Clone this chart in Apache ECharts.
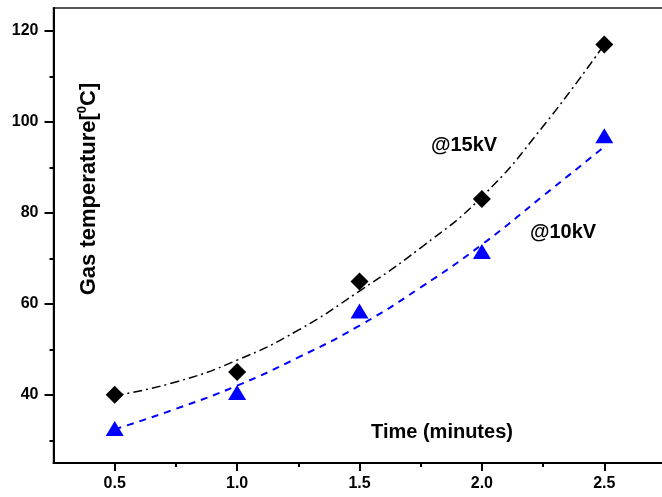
<!DOCTYPE html>
<html>
<head>
<meta charset="utf-8">
<script src="https://cdn.jsdelivr.net/npm/echarts@6/dist/echarts.min.js"></script>
<style>html,body{margin:0;padding:0;background:#fff}#c{width:662px;height:497px}</style>
</head>
<body>
<div id="c"></div>
<script>
// Measured data
const times = [0.5, 1.0, 1.5, 2.0, 2.5];
const temp15kV = [40, 45, 64.9, 83, 117];
const temp10kV = [32.6, 40.5, 58.4, 71.5, 96.9];
// Fitted curves
const fitTimes = [0.5, 0.75, 1.0, 1.25, 1.5, 1.75, 2.0, 2.25, 2.5];
const fit15kV = [39.8, 42.8, 47.6, 54.2, 62.8, 72.3, 83.5, 99, 117];
const fit10kV = [32.4, 36.9, 42, 48.2, 55.2, 63.6, 73, 83.7, 94.5];
// Tick values
const xMajorTicks = [0.5, 1.0, 1.5, 2.0, 2.5];
const xMinorTicks = [0.75, 1.25, 1.75, 2.25];
const yMajorTicks = [40, 60, 80, 100, 120];
const yMinorTicks = [30, 50, 70, 90, 110];

const FONT = 'Liberation Sans, Arial, sans-serif';
const chart = echarts.init(document.getElementById('c'));
const pair = (xs, ys) => xs.map((x, i) => [x, ys[i]]);

function tickAxis(min, max, pos, values, len) {
  return {type: 'value', min: min, max: max, position: pos,
    splitLine: {show: false}, axisLine: {show: false},
    axisTick: {show: true, customValues: values, length: len, lineStyle: {color: '#000', width: 2}},
    axisLabel: {show: false}};
}

chart.setOption({
  animation: false,
  backgroundColor: '#fff',
  grid: {left: 53.5, top: 8, right: -3.5, bottom: 34, show: true, outerBoundsMode: 'none',
         containLabel: false, borderColor: '#222', borderWidth: 1.5, backgroundColor: 'transparent'},
  xAxis: [
    {type: 'value', min: 0.25, max: 2.75, position: 'bottom',
     splitLine: {show: false},
     axisLine: {show: true, onZero: false, lineStyle: {color: '#000', width: 2}},
     axisTick: {show: false},
     axisLabel: {customValues: xMajorTicks, margin: 13, color: '#000', fontSize: 16, fontWeight: 'bold',
                 fontFamily: FONT, formatter: v => v.toFixed(1)}},
    tickAxis(0.25, 2.75, 'bottom', xMajorTicks, 8),
    tickAxis(0.25, 2.75, 'bottom', xMinorTicks, 4)
  ],
  yAxis: [
    {type: 'value', min: 25, max: 125, position: 'left',
     splitLine: {show: false},
     axisLine: {show: true, onZero: false, lineStyle: {color: '#000', width: 2}},
     axisTick: {show: false},
     axisLabel: {customValues: yMajorTicks, margin: 15, color: '#000', fontSize: 16, fontWeight: 'bold',
                 fontFamily: FONT}},
    tickAxis(25, 125, 'left', yMajorTicks, 9),
    tickAxis(25, 125, 'left', yMinorTicks, 4)
  ],
  graphic: [
    {type: 'text', x: 88, y: 189, rotation: Math.PI / 2,
     style: {text: '{m|Gas temperature[}{s|0}{m|C]}', align: 'center', verticalAlign: 'middle',
             rich: {m: {fontSize: 22, fontWeight: 'bold', fontFamily: FONT, fill: '#000', lineHeight: 24, verticalAlign: 'bottom'},
                    s: {fontSize: 13, fontWeight: 'bold', fontFamily: FONT, fill: '#000', verticalAlign: 'top', lineHeight: 24}}}},
    {type: 'text', x: 442, y: 432,
     style: {text: 'Time (minutes)', fontSize: 20, fontWeight: 'bold', fontFamily: FONT, fill: '#000',
             align: 'center', verticalAlign: 'middle'}},
    {type: 'text', x: 464, y: 145,
     style: {text: '@15kV', fontSize: 20, fontWeight: 'bold', fontFamily: FONT, fill: '#000',
             align: 'center', verticalAlign: 'middle'}},
    {type: 'text', x: 563, y: 232,
     style: {text: '@10kV', fontSize: 20, fontWeight: 'bold', fontFamily: FONT, fill: '#000',
             align: 'center', verticalAlign: 'middle'}}
  ],
  series: [
    {type: 'line', data: pair(fitTimes, fit15kV), smooth: true, showSymbol: false, z: 2,
     lineStyle: {color: '#000', width: 1.5, type: [9, 4, 2, 4]}},
    {type: 'line', data: pair(fitTimes, fit10kV), smooth: true, showSymbol: false, z: 2,
     lineStyle: {color: '#0000ff', width: 2, type: [7, 6]}},
    {type: 'scatter', data: pair(times, temp15kV), symbol: 'diamond', symbolSize: [18, 18], z: 3,
     itemStyle: {color: '#000', opacity: 1}},
    {type: 'scatter', data: pair(times, temp10kV), symbol: 'triangle', symbolSize: [18, 15], z: 3,
     itemStyle: {color: '#0000ff', opacity: 1}}
  ]
});
</script>
</body>
</html>
